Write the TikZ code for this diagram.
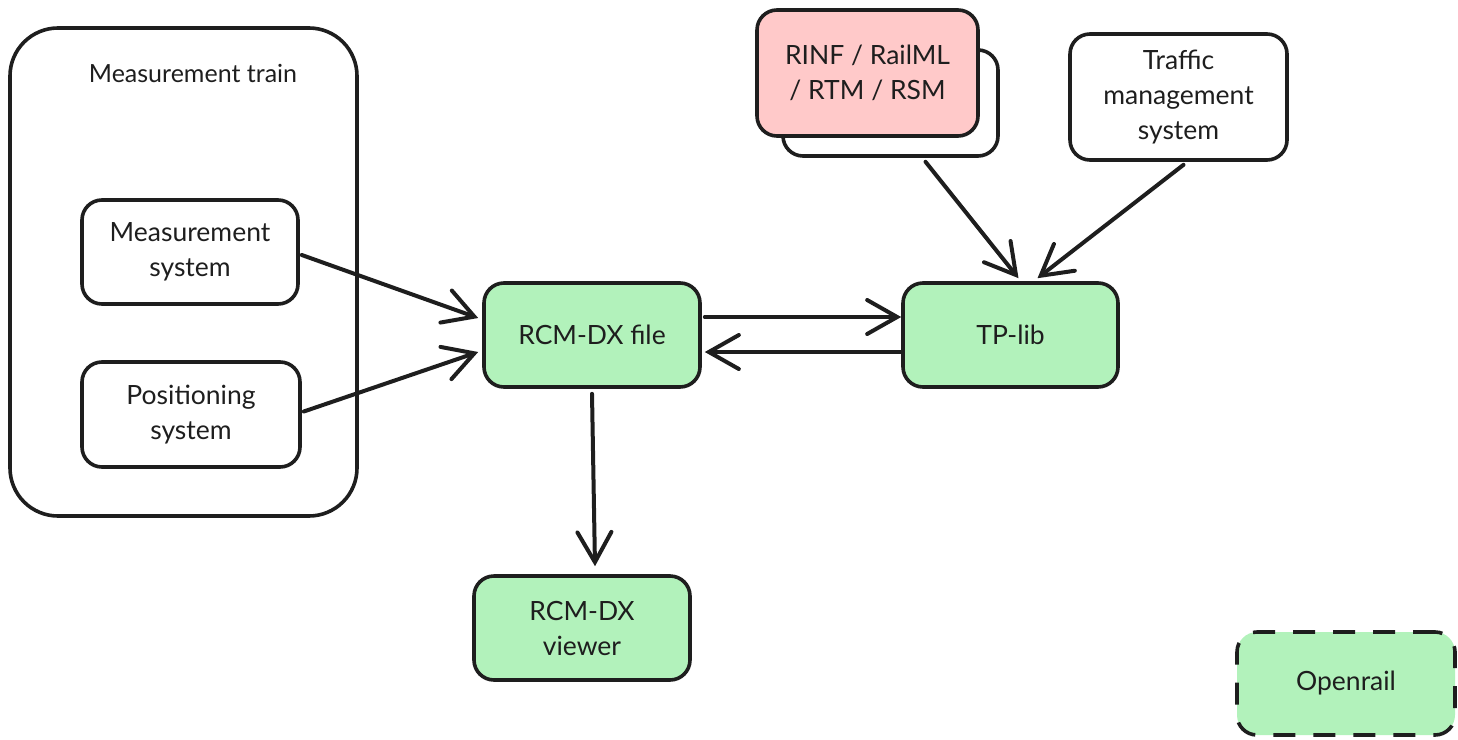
\documentclass[tikz,border=0pt]{standalone}
\usepackage{fontspec}
\setmainfont{Lato}
\usetikzlibrary{arrows.meta}
\definecolor{ink}{HTML}{1E1E1E}
\definecolor{gfill}{HTML}{B2F2BB}
\definecolor{pfill}{HTML}{FFC9C9}
\tikzset{
  box/.style={draw=ink, line width=3.6pt, rounded corners=20pt, inner sep=0pt, align=center,
    font=\fontsize{26.5}{35}\selectfont, text=ink},
  gbox/.style={box, fill=gfill},
  conn/.style={draw=ink, line width=4pt, line cap=round, -{Straight Barb[length=30pt,width=34pt,line cap=round]}},
}
\begin{document}
\begin{tikzpicture}[x=1pt,y=-1pt]
\useasboundingbox (0,0) rectangle (1458,739);
% measurement train container
\node[box, rounded corners=48pt, minimum width=347pt, minimum height=488pt] (train) at (183.5,272) {};
\node[font=\fontsize{25}{30}\selectfont, text=ink] (trainlbl) at (193,73) {Measurement train};
\node[box, minimum width=216pt, minimum height=104pt] (meas) at (190,252) {Measurement\\system};
\node[box, minimum width=218pt, minimum height=105pt] (pos) at (191,414.5) {Positioning\\system};
\node[gbox, minimum width=216pt, minimum height=104pt] (rcm) at (592,335) {RCM-DX file};
\node[gbox, minimum width=215pt, minimum height=104pt] (tplib) at (1010.5,335) {TP-lib};
\node[gbox, minimum width=216pt, minimum height=104pt] (viewer) at (582,628) {RCM-DX\\viewer};
\node[box, fill=white, minimum width=215pt, minimum height=106pt] (rinfback) at (890.5,103) {};
\node[box, fill=pfill, minimum width=221pt, minimum height=126pt] (rinf) at (867.5,73) {RINF / RailML\\/ RTM / RSM};
\node[box, minimum width=217pt, minimum height=126pt] (traffic) at (1178.5,97) {Traffic\\management\\system};
\node[gbox, dashed, dash pattern=on 22pt off 18pt, minimum width=218pt, minimum height=103pt] (openrail) at (1346,683.5) {Openrail};
% connectors
\draw[conn] ([xshift=2pt,yshift=-3pt]meas.east) -- ([xshift=-4pt,yshift=17pt]rcm.west);
\draw[conn] ([xshift=2pt,yshift=3pt]pos.east) -- ([xshift=-4pt,yshift=-17pt]rcm.west);
\draw[conn] ([xshift=3pt,yshift=18pt]rcm.east) -- ([yshift=18pt]tplib.west);
\draw[conn] ([yshift=-17pt]tplib.west) -- ([xshift=3pt,yshift=-17pt]rcm.east);
\draw[conn] ([yshift=-5pt]rcm.south) -- ([xshift=13pt,yshift=8pt]viewer.north);
\draw[conn] ([xshift=35pt,yshift=-4pt]rinfback.south) -- ([xshift=8pt,yshift=3pt]tplib.north);
\draw[conn] ([xshift=5pt,yshift=-3pt]traffic.south) -- ([xshift=27pt,yshift=3pt]tplib.north);
\end{tikzpicture}
\end{document}
